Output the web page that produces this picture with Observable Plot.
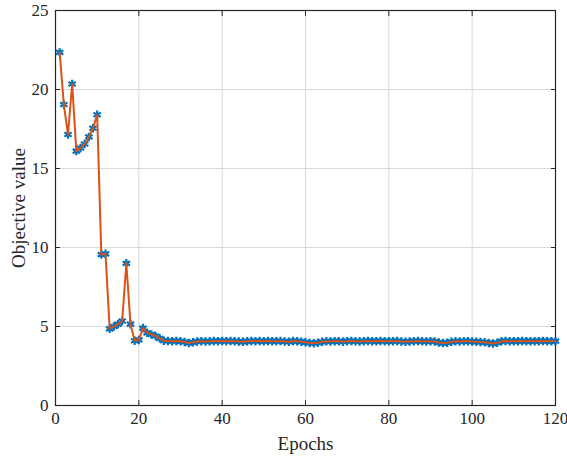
<!DOCTYPE html>
<html>
<head>
<meta charset="utf-8">
<script src="https://cdn.jsdelivr.net/npm/d3@7"></script>
<script src="https://cdn.jsdelivr.net/npm/@observablehq/plot@0.6"></script>
<style>
  html, body { margin: 0; padding: 0; background: #fff; }
  #chart svg { display: block; }
</style>
</head>
<body>
<div id="chart"></div>
<script>
const epochs = d3.range(1, 121);
const objective = [
  22.35, 19.05, 17.15, 20.35, 16.1, 16.3, 16.55, 17.0, 17.55, 18.4,
  9.55, 9.6, 4.85, 5.0, 5.15, 5.35, 9.0, 5.15, 4.1, 4.15,
  4.9, 4.6, 4.5, 4.4, 4.25, 4.1, 4.08, 4.07, 4.08, 4.06,
  4.02, 3.95, 4.0, 4.05, 4.07, 4.05, 4.06, 4.08, 4.07, 4.08,
  4.07, 4.08, 4.06, 4.05, 4.03, 4.06, 4.08, 4.07, 4.08, 4.06,
  4.08, 4.07, 4.06, 4.08, 4.05, 4.04, 4.08, 4.06, 4.04, 4.0,
  3.96, 3.94, 3.97, 4.03, 4.06, 4.05, 4.07, 4.06, 4.04, 4.07,
  4.08, 4.06, 4.05, 4.07, 4.08, 4.07, 4.06, 4.08, 4.07, 4.06,
  4.07, 4.08, 4.05, 4.03, 4.05, 4.07, 4.08, 4.06, 4.05, 4.07,
  4.05, 3.98, 3.95, 3.97, 4.03, 4.06, 4.05, 4.07, 4.06, 4.05,
  4.03, 4.02, 4.0, 3.96, 3.92, 3.97, 4.06, 4.08, 4.07, 4.06,
  4.07, 4.08, 4.06, 4.07, 4.06, 4.07, 4.08, 4.07, 4.06, 4.07
];
const xTicks = [0, 20, 40, 60, 80, 100, 120];
const yTicks = [0, 5, 10, 15, 20, 25];
const xLabel = "Epochs";
const yLabel = "Objective value";

const data = epochs.map((e, i) => ({epoch: e, value: objective[i]}));
const axisColor = "#262626";

const chart = Plot.plot({
  width: 567,
  height: 456,
  marginLeft: 55,
  marginRight: 12,
  marginTop: 10,
  marginBottom: 51,
  style: {fontFamily: "'Times New Roman', 'Liberation Serif', serif", fontSize: "17px", color: axisColor, background: "#fff"},
  x: {domain: [0, 120]},
  y: {domain: [0, 25]},
  marks: [
    Plot.gridX(xTicks, {stroke: "#d9d9d9", strokeOpacity: 1, strokeWidth: 1}),
    Plot.gridY(yTicks, {stroke: "#d9d9d9", strokeOpacity: 1, strokeWidth: 1}),
    Plot.axisX(xTicks, {anchor: "bottom", tickSize: -5, tickPadding: 11, stroke: axisColor, fill: axisColor, fontSize: 17, label: null}),
    Plot.axisX(xTicks, {anchor: "top", tickSize: -5, tickFormat: () => "", stroke: axisColor, label: null}),
    Plot.axisY(yTicks, {anchor: "left", tickSize: -5, tickPadding: 12, stroke: axisColor, fill: axisColor, fontSize: 17, label: null}),
    Plot.axisY(yTicks, {anchor: "right", tickSize: -5, tickFormat: () => "", stroke: axisColor, label: null}),
    Plot.frame({stroke: axisColor, strokeWidth: 1.2}),
    Plot.dot(data, {x: "epoch", y: "value", symbol: "asterisk", r: 4, stroke: "#0072BD", strokeWidth: 2.2}),
    Plot.line(data, {x: "epoch", y: "value", stroke: "#D95319", strokeWidth: 2}),
    Plot.text([xLabel], {frameAnchor: "bottom", dy: 38, text: d => d, fontSize: 19, fill: axisColor, lineAnchor: "middle", textAnchor: "middle"}),
    Plot.text([yLabel], {frameAnchor: "middle", dx: -287, rotate: -90, text: d => d, fontSize: 19, fill: axisColor, textAnchor: "middle", lineAnchor: "middle"})
  ]
});
document.getElementById("chart").appendChild(chart);
</script>
</body>
</html>
